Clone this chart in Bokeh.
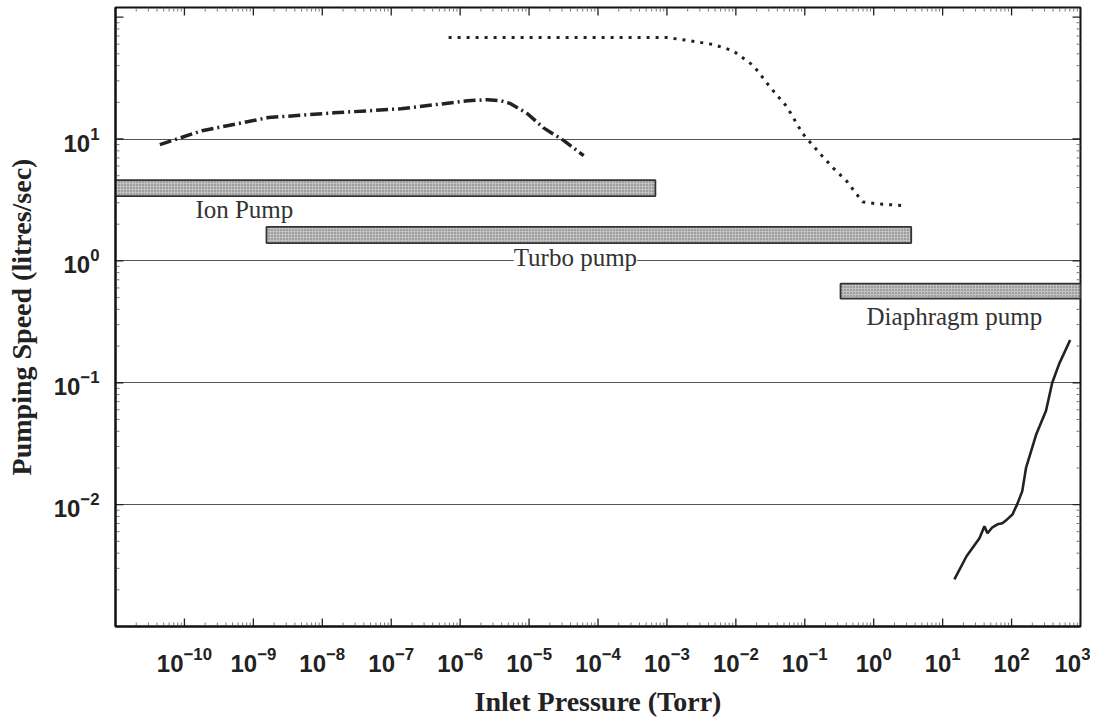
import numpy as np
from bokeh.plotting import figure
from bokeh.models import FixedTicker, Label, Range1d
from bokeh.embed import file_html
from bokeh.resources import INLINE

# ---- data ----
ion_x = [4.4e-11, 1.8e-10, 1.66e-9, 1.48e-8, 1.38e-7, 1.29e-6, 2.5e-6, 3.9e-6, 5.4e-6, 9.5e-6, 1.6e-5, 3.2e-5, 6.2e-5]
ion_y = [9.0, 11.7, 15.0, 16.4, 17.7, 20.6, 21.0, 20.6, 19.5, 16.1, 12.4, 9.7, 7.3]

turbo_x = [6.8e-7, 1.0e-3, 2.2e-3, 4.7e-3, 9.1e-3, 1.8e-2, 3.1e-2, 5.5e-2, 9.3e-2, 0.166, 0.257, 0.407, 0.56, 0.69, 1.1, 3.0]
turbo_y = [68, 68, 64, 59.6, 53, 40, 26.9, 18.4, 11.1, 7.6, 5.8, 4.5, 3.55, 3.05, 2.94, 2.83]

diaph_x = [14.8, 22.2, 34.2, 40.4, 44.7, 52.7, 62.4, 73.6, 87, 103, 121, 143, 162, 229, 316, 389, 490, 708]
diaph_y = [0.00244, 0.00377, 0.0053, 0.00665, 0.00582, 0.00652, 0.0069, 0.00703, 0.0076, 0.0083,
           0.0101, 0.0129, 0.020, 0.038, 0.059, 0.10, 0.143, 0.224]

bar_names = ["Ion Pump", "Turbo pump", "Diaphragm pump"]
bar_left = [1e-11, 1.55e-9, 0.33]
bar_right = [6.8e-4, 3.5, 1e3]
bar_bottom = [3.4, 1.4, 0.49]
bar_top = [4.6, 1.9, 0.65]
label_x = [7.4e-10, 4.7e-5, 14.8]
label_y = [2.62, 1.06, 0.353]

x_ticks = [10.0 ** k for k in range(-10, 4)]
y_ticks = [1e-2, 1e-1, 1.0, 10.0]
x_minor = [m * 10.0 ** k for k in range(-11, 3) for m in range(2, 10)]
y_minor = [m * 10.0 ** k for k in range(-3, 2) for m in range(2, 10)]
y_tick_marks = y_ticks + [100.0]

X0, X1 = 1e-11, 1e3
Y0, Y1 = 1e-3, 120.0

# ---- figure ----
p = figure(title=None, x_axis_type="log", y_axis_type="log",
           x_range=Range1d(X0, X1), y_range=Range1d(Y0, Y1),
           frame_width=965, frame_height=619,
           min_border_left=115, min_border_right=10, min_border_top=7, min_border_bottom=2,
           output_backend="svg", toolbar_location=None)
p.background_fill_color = "white"
p.border_fill_color = "white"
p.outline_line_color = "#111"
p.outline_line_width = 2

tick_font = "Liberation Sans"
serif = "Liberation Serif"

xt = FixedTicker(ticks=x_ticks, minor_ticks=x_minor)
yt = FixedTicker(ticks=y_ticks, minor_ticks=y_minor)

for ax, t in ((p.xaxis[0], xt), (p.yaxis[0], yt)):
    ax.ticker = t
    ax.major_tick_in = 0
    ax.major_tick_out = 0
    ax.minor_tick_in = 0
    ax.minor_tick_out = 0
    ax.axis_line_width = 2
    ax.axis_line_color = "#111"
    ax.major_label_text_font = tick_font
    ax.major_label_text_font_style = "bold"
    ax.major_label_text_font_size = "24px"
    ax.major_label_text_color = "#222"
    ax.axis_label_text_font = serif
    ax.axis_label_text_font_style = "bold"
    ax.axis_label_text_font_size = "28px"
    ax.axis_label_text_color = "#222"

p.xaxis[0].axis_label = "Inlet Pressure (Torr)"
p.yaxis[0].axis_label = "Pumping Speed (litres/sec)"
p.xaxis[0].major_label_standoff = 20
p.yaxis[0].major_label_standoff = 16
p.xaxis[0].axis_label_standoff = 11
p.yaxis[0].axis_label_standoff = 14

p.xgrid.grid_line_color = None
p.ygrid.ticker = yt
p.ygrid.grid_line_color = "#555"
p.ygrid.grid_line_width = 1

# inward tick marks on all four sides (lengths in pixels converted through the log scales)
dec_px_x = 965 / 14.0
dec_px_y = 619 / np.log10(Y1 / Y0)
fy_maj, fy_min = 10 ** (8 / dec_px_y), 10 ** (4 / dec_px_y)
fx_maj, fx_min = 10 ** (8 / dec_px_x), 10 ** (4 / dec_px_x)
xm = np.array(x_ticks); xn = np.array(x_minor)
ym = np.array(y_tick_marks); yn = np.array(y_minor)
tick_kw = dict(line_color="#222", line_width=1.3)
minor_kw = dict(line_color="#777", line_width=1)
p.segment(xm, Y0, xm, Y0 * fy_maj, **tick_kw)
p.segment(xm, Y1, xm, Y1 / fy_maj, **tick_kw)
p.segment(xn, Y0, xn, Y0 * fy_min, **minor_kw)
p.segment(xn, Y1, xn, Y1 / fy_min, **minor_kw)
p.segment(X0, ym, X0 * fx_maj, ym, **tick_kw)
p.segment(X1, ym, X1 / fx_maj, ym, **tick_kw)
p.segment(X0, yn, X0 * fx_min, yn, **minor_kw)
p.segment(X1, yn, X1 / fx_min, yn, **minor_kw)

# bars
p.quad(left=bar_left, right=bar_right, bottom=bar_bottom, top=bar_top,
       fill_color="#c2c2c2", line_color="#333", line_width=1.8,
       hatch_pattern=".", hatch_color="#666", hatch_scale=3, hatch_weight=1)

# curves
p.line(ion_x, ion_y, line_color="#222", line_width=3.5, line_dash="12 4 2 4")
p.line(turbo_x, turbo_y, line_color="#222", line_width=3, line_dash="3 6")
p.line(diaph_x, diaph_y, line_color="#222", line_width=2.6)

# labels
for name, lx, ly in zip(bar_names, label_x, label_y):
    p.add_layout(Label(x=lx, y=ly, text=name, text_align="center", text_baseline="middle",
                       text_font=serif, text_font_size="25px", text_color="#333",
                       background_fill_color="white" if name == "Turbo pump" else None))

open("out.html", "w").write(file_html(p, INLINE))
